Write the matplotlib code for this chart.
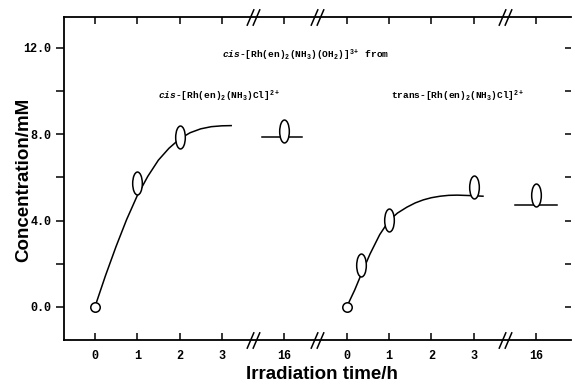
import matplotlib
matplotlib.use("Agg")
import matplotlib.pyplot as plt
from matplotlib.path import Path
from matplotlib.transforms import Affine2D
import numpy as np

plt.rcParams['mathtext.fontset'] = 'custom'
plt.rcParams['mathtext.rm'] = 'Liberation Mono:bold'
plt.rcParams['mathtext.it'] = 'Liberation Mono:italic:bold'
plt.rcParams['mathtext.bf'] = 'Liberation Mono:bold'

# ---------------- data ----------------
# cis-[Rh(en)2(NH3)Cl]2+ series
cis_t = [0, 1, 2]
cis_c = [0.0, 5.74, 7.87]
cis_16_c = 8.15          # value at 16 h
cis_plateau = 7.87       # horizontal line at 16 h
cis_curve_t = [0, 0.25, 0.5, 0.75, 1.0, 1.25, 1.5, 1.75, 2.0, 2.25, 2.5, 2.75, 3.0, 3.22]
cis_curve_c = [0, 1.45, 2.8, 4.05, 5.15, 6.05, 6.8, 7.35, 7.78, 8.07, 8.25, 8.35, 8.39, 8.40]

# trans-[Rh(en)2(NH3)Cl]2+ series
trans_t = [0, 0.33, 1, 3]
trans_c = [0.0, 1.94, 4.03, 5.57]
trans_16_c = 5.19
trans_plateau = 4.72
trans_curve_t = [0, 0.19, 0.33, 0.55, 0.78, 1.0, 1.2, 1.42, 1.62, 1.81, 2.0, 2.21, 2.41, 2.61, 2.9, 3.22]
trans_curve_c = [0, 0.79, 1.45, 2.45, 3.35, 4.00, 4.35, 4.62, 4.82, 4.96, 5.06, 5.13, 5.17, 5.18, 5.16, 5.13]

xtick_labels = ['0', '1', '2', '3', '16']
ytick_major = [0.0, 4.0, 8.0, 12.0]
ytick_labels = ['0.0', '4.0', '8.0', '12.0']

# ---------------- layout of the broken axis ----------------
P1 = 0.0        # origin of first panel
P2 = 5.95       # origin of second panel
POS16 = 4.48    # relative position of the 16 h slot
breaks = [3.73, 5.25, 9.69]

def pos(t, origin):
    t = np.asarray(t, dtype=float)
    return origin + t

fig = plt.figure(figsize=(5.75, 3.87), dpi=100)
ax = fig.add_axes([64/575, 1-340/387, (571-64)/575, (340-17)/387])
ax.set_xlim(-0.73, 11.25)
ax.set_ylim(-1.53, 13.43)

# ellipse marker
ell = Path.unit_circle().transformed(Affine2D().scale(0.42, 1.0))
lw = 1.1
col = 'black'
ms_e = 16.5
ms_c = 6.8

# cis panel
ax.plot(pos(cis_curve_t, P1), cis_curve_c, color=col, lw=lw)
ax.plot(pos([cis_t[0]], P1), [cis_c[0]], ls='none', marker='o', ms=ms_c,
        mfc='white', mec=col, mew=lw, zorder=3)
ax.plot(pos(cis_t[1:], P1), cis_c[1:], ls='none', marker=ell, ms=ms_e,
        mfc='white', mec=col, mew=lw, zorder=3)
ax.plot([P1 + POS16 - 0.52, P1 + POS16 + 0.42], [cis_plateau, cis_plateau], color=col, lw=lw)
ax.plot([P1 + POS16], [cis_16_c], ls='none', marker=ell, ms=ms_e,
        mfc='white', mec=col, mew=lw, zorder=3)

# trans panel
ax.plot(pos(trans_curve_t, P2), trans_curve_c, color=col, lw=lw)
ax.plot(pos([trans_t[0]], P2), [trans_c[0]], ls='none', marker='o', ms=ms_c,
        mfc='white', mec=col, mew=lw, zorder=3)
ax.plot(pos(trans_t[1:], P2), trans_c[1:], ls='none', marker=ell, ms=ms_e,
        mfc='white', mec=col, mew=lw, zorder=3)
ax.plot([P2 + POS16 - 0.5, P2 + POS16 + 0.5], [trans_plateau, trans_plateau], color=col, lw=lw)
ax.plot([P2 + POS16], [trans_16_c], ls='none', marker=ell, ms=ms_e,
        mfc='white', mec=col, mew=lw, zorder=3)

# ---------------- axes styling ----------------
for s in ['left', 'top', 'bottom']:
    ax.spines[s].set_linewidth(1.3)
ax.spines['right'].set_visible(False)

xt = [P1 + 0, P1 + 1, P1 + 2, P1 + 3, P1 + POS16,
      P2 + 0, P2 + 1, P2 + 2, P2 + 3, P2 + POS16]
ax.set_xticks(xt)
ax.set_xticklabels(xtick_labels * 2)
ax.tick_params(axis='x', which='both', direction='in', top=True, bottom=True,
               length=5, width=1.1, pad=7)
ax.set_yticks(ytick_major)
ax.set_yticklabels(ytick_labels)
ax.set_yticks([2.0, 6.0, 10.0], minor=True)
ax.tick_params(axis='y', which='both', direction='out', left=True, right=True,
               length=6, width=1.1, pad=3)
for tl in ax.yaxis.get_major_ticks() + ax.yaxis.get_minor_ticks():
    tl.tick2line.set_marker(0)
    tl.tick2line.set_markersize(4)

for lab in ax.get_xticklabels() + ax.get_yticklabels():
    lab.set_family('Liberation Mono')
    lab.set_fontsize(8.5)
    lab.set_weight('bold')

# break marks
brk = Path([(-0.55, -0.7), (0.05, 0.7), (-0.05, -0.7), (0.55, 0.7)],
           [Path.MOVETO, Path.LINETO, Path.MOVETO, Path.LINETO])
for yb in (0, 1):
    ax.plot(breaks, [yb] * len(breaks), ls='none', marker=brk, ms=12,
            mec=col, mew=1.1, transform=ax.get_xaxis_transform(), clip_on=False, zorder=5)

# ---------------- texts ----------------
ax.set_xlabel('Irradiation time/h', family='Liberation Sans', weight='bold', fontsize=13.5)
ax.xaxis.set_label_coords((322 - 64) / 507, -(366 - 340) / 323)
ax.set_ylabel('Concentration/mM', family='Liberation Sans', weight='bold', fontsize=13.5)
ax.yaxis.set_label_coords(-(64 - 32) / 507, (340 - 180) / 323)

tkw = dict(fontsize=6.8, family='Liberation Mono', weight='bold', ha='left', va='center')
ax.text(3.0, 11.65, r'$\it{cis}$-[Rh(en)$_2$(NH$_3$)(OH$_2$)]$^{3+}$ from', **tkw)
ax.text(1.5, 9.75, r'$\it{cis}$-[Rh(en)$_2$(NH$_3$)Cl]$^{2+}$', **tkw)
ax.text(7.0, 9.75, r'trans-[Rh(en)$_2$(NH$_3$)Cl]$^{2+}$', **tkw)

fig.savefig('out.png', dpi=100)
